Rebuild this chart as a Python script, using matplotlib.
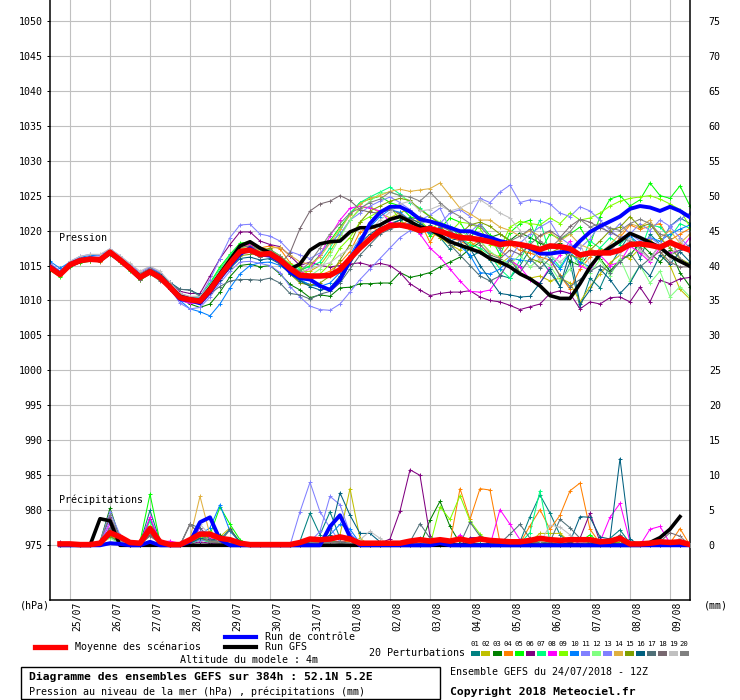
import numpy as np
import matplotlib
matplotlib.use('Agg')
import matplotlib.pyplot as plt
from matplotlib.patches import Rectangle
from matplotlib.lines import Line2D
from matplotlib.transforms import ScaledTranslation

plt.rcParams['font.family'] = ['DejaVu Sans Mono']

# ---------------- data ----------------
dates = ['25/07', '26/07', '27/07', '28/07', '29/07', '30/07', '31/07', '01/08',
         '02/08', '03/08', '04/08', '05/08', '06/08', '07/08', '08/08', '09/08']

pert_colors = ['#008080', '#c0c000', '#008000', '#ff8000', '#00ff00', '#800080',
               '#00ff80', '#ff00ff', '#80ff00', '#0080ff', '#8080ff', '#80ff80',
               '#8080ff', '#e0b040', '#80a000', '#006080', '#507078', '#786870',
               '#c0c0c0', '#808080']
pert_labels = ['01', '02', '03', '04', '05', '06', '07', '08', '09', '10',
               '11', '12', '13', '14', '15', '16', '17', '18', '19', '20']

# sea-level pressure (hPa), 6-hourly, 65 values
mean_p = [1014.7, 1013.7, 1015.1, 1015.7, 1015.9, 1015.8, 1016.9, 1015.8, 1014.6, 1013.3,
          1014.1, 1013.3, 1011.9, 1010.4, 1010.1, 1009.9, 1011.5, 1013.5, 1015.3, 1017.0,
          1017.2, 1016.6, 1016.7, 1015.8, 1014.6, 1013.6, 1013.5, 1013.5, 1013.6, 1014.4,
          1016.0, 1017.5, 1018.8, 1020.0, 1020.7, 1020.8, 1020.5, 1020.0, 1020.3, 1019.9,
          1019.4, 1019.0, 1018.9, 1018.7, 1018.4, 1018.0, 1018.2, 1018.0, 1017.7, 1017.3,
          1017.8, 1017.7, 1017.4, 1016.5, 1016.8, 1016.8, 1016.8, 1017.2, 1018.0, 1018.1,
          1017.9, 1017.6, 1018.3, 1017.7, 1017.2]
ctrl_p = [1014.9, 1013.8, 1015.2, 1015.8, 1016.0, 1015.9, 1016.8, 1015.7, 1014.5, 1013.2,
          1014.2, 1013.4, 1011.8, 1010.2, 1010.0, 1009.6, 1011.2, 1013.2, 1015.0, 1016.6,
          1017.5, 1016.6, 1016.4, 1015.6, 1014.1, 1013.2, 1013.0, 1012.1, 1011.5, 1013.0,
          1015.7, 1018.3, 1021.0, 1022.6, 1023.4, 1023.4, 1022.7, 1021.6, 1021.3, 1020.9,
          1020.4, 1019.9, 1019.9, 1019.4, 1019.0, 1018.5, 1018.2, 1018.0, 1017.5, 1016.7,
          1016.7, 1016.9, 1017.0, 1018.5, 1019.8, 1020.6, 1021.3, 1022.0, 1023.1, 1023.5,
          1023.3, 1022.8, 1023.4, 1022.8, 1021.9]
gfs_p = [1014.8, 1013.8, 1015.0, 1015.6, 1015.9, 1015.7, 1016.8, 1015.9, 1014.7, 1013.4,
         1014.2, 1013.4, 1012.0, 1010.6, 1010.2, 1010.0, 1011.8, 1013.8, 1015.8, 1017.8,
         1018.4, 1017.5, 1016.8, 1015.9, 1014.5, 1015.2, 1017.2, 1018.1, 1018.4, 1018.5,
         1019.8, 1020.4, 1020.4, 1020.8, 1021.6, 1022.0, 1021.3, 1020.5, 1020.2, 1019.3,
         1018.4, 1017.9, 1017.4, 1016.9, 1016.0, 1015.5, 1014.8, 1013.8, 1013.1, 1012.1,
         1010.7, 1010.3, 1010.3, 1012.4, 1014.8, 1016.6, 1017.6, 1018.5, 1019.6, 1019.0,
         1018.3, 1017.6, 1016.4, 1015.6, 1014.9]

p01 = [1015.0, 1013.9, 1015.3, 1015.9, 1016.1, 1016.0, 1017.0, 1015.9, 1014.9, 1013.6,
       1014.4, 1013.7, 1012.2, 1011.0, 1010.5, 1010.2, 1011.8, 1013.9, 1015.5, 1017.1,
       1016.9, 1016.2, 1016.5, 1015.3, 1014.0, 1012.8, 1012.3, 1012.0, 1011.4, 1012.8,
       1015.2, 1017.6, 1019.0, 1020.4, 1021.0, 1021.5, 1020.3, 1019.6, 1020.8, 1019.0,
       1017.3, 1018.5, 1016.2, 1017.0, 1015.8, 1013.6, 1013.2, 1015.0, 1017.3, 1016.0,
       1014.0, 1012.0, 1015.5, 1009.0, 1013.2, 1011.8, 1015.0, 1017.3, 1019.5, 1016.0,
       1019.5, 1018.0, 1020.6, 1021.8, 1021.0]
p02 = [1014.5, 1013.5, 1014.9, 1015.5, 1015.7, 1015.6, 1016.6, 1015.5, 1014.4, 1013.1,
       1014.0, 1013.1, 1011.6, 1010.2, 1009.9, 1009.6, 1011.0, 1013.0, 1015.2, 1016.8,
       1017.0, 1016.3, 1016.8, 1016.0, 1014.8, 1014.0, 1014.2, 1015.0, 1017.0, 1019.3,
       1021.5, 1023.2, 1023.4, 1022.5, 1021.8, 1022.6, 1023.0, 1021.0, 1019.8, 1019.0,
       1018.0, 1017.2, 1018.4, 1017.3, 1016.0, 1015.2, 1016.3, 1014.0, 1013.2, 1013.5,
       1012.8, 1013.2, 1012.5, 1009.8, 1012.0, 1013.8, 1015.4, 1016.5, 1016.0, 1017.5,
       1018.8, 1017.0, 1015.0, 1011.6, 1010.2]
p03 = [1014.6, 1013.8, 1015.0, 1015.6, 1015.9, 1015.9, 1016.8, 1015.6, 1014.5, 1013.1,
       1013.9, 1013.2, 1011.7, 1010.2, 1009.5, 1009.0, 1009.5, 1011.2, 1013.4, 1015.0,
       1015.2, 1014.8, 1015.0, 1013.8, 1012.3, 1011.5, 1010.4, 1010.8, 1010.6, 1011.8,
       1011.9, 1012.4, 1012.4, 1012.5, 1012.5, 1014.0, 1013.3, 1013.6, 1014.0, 1014.8,
       1015.5, 1016.2, 1017.4, 1018.3, 1019.0, 1019.5, 1018.6, 1019.7, 1019.0, 1018.2,
       1017.6, 1018.2, 1015.6, 1015.0, 1016.8, 1016.0, 1014.2, 1015.8, 1016.5, 1018.2,
       1016.8, 1015.5, 1017.2, 1014.0, 1012.0]
p04 = [1014.9, 1014.0, 1015.2, 1015.8, 1016.0, 1015.5, 1016.9, 1015.9, 1014.9, 1013.5,
       1014.5, 1013.6, 1012.0, 1010.6, 1010.3, 1010.0, 1012.0, 1014.2, 1016.3, 1017.8,
       1018.0, 1017.5, 1017.8, 1017.4, 1015.4, 1014.0, 1013.0, 1013.6, 1014.2, 1015.4,
       1017.0, 1019.8, 1020.5, 1020.0, 1021.2, 1020.8, 1021.5, 1021.3, 1018.3, 1020.7,
       1019.0, 1018.5, 1017.8, 1018.6, 1016.8, 1016.2, 1018.0, 1017.2, 1016.8, 1016.2,
       1015.8, 1013.6, 1011.6, 1014.5, 1016.2, 1017.4, 1016.8, 1019.0, 1020.8, 1020.2,
       1020.6, 1021.0, 1018.6, 1019.5, 1020.3]
p05 = [1014.3, 1013.4, 1014.8, 1015.4, 1015.6, 1015.6, 1016.5, 1015.5, 1014.2, 1012.9,
       1013.8, 1013.0, 1011.8, 1010.6, 1010.2, 1010.6, 1012.5, 1014.8, 1016.6, 1018.2,
       1018.4, 1017.5, 1017.3, 1016.4, 1015.0, 1014.2, 1015.0, 1016.5, 1018.5, 1020.5,
       1022.3, 1024.0, 1024.5, 1024.9, 1024.0, 1023.5, 1022.0, 1021.5, 1019.2, 1020.3,
       1021.8, 1021.2, 1018.8, 1021.0, 1019.3, 1016.5, 1019.7, 1021.0, 1021.5, 1017.0,
       1019.5, 1018.8, 1019.5, 1020.5, 1018.0, 1022.0, 1024.5, 1025.0, 1023.5, 1024.4,
       1026.8, 1025.0, 1024.6, 1026.4, 1023.5]
p06 = [1015.2, 1014.2, 1015.3, 1015.9, 1016.2, 1016.2, 1017.0, 1016.0, 1015.0, 1013.8,
       1014.6, 1014.0, 1012.5, 1011.3, 1011.0, 1011.0, 1013.5, 1016.0, 1018.0, 1019.8,
       1019.8, 1018.5, 1018.0, 1017.7, 1016.4, 1015.0, 1015.5, 1015.0, 1014.8, 1015.0,
       1015.2, 1015.4, 1015.0, 1015.3, 1015.0, 1014.0, 1012.4, 1011.5, 1010.7, 1011.0,
       1011.2, 1011.2, 1011.4, 1010.5, 1010.0, 1009.8, 1009.3, 1008.7, 1009.1, 1009.5,
       1011.0, 1011.4, 1011.0, 1008.8, 1009.8, 1009.5, 1010.4, 1010.5, 1009.8, 1011.9,
       1009.8, 1012.9, 1012.4, 1013.1, 1013.3]
p07 = [1014.8, 1013.6, 1015.2, 1015.9, 1016.1, 1016.0, 1016.9, 1015.9, 1014.7, 1013.5,
       1014.3, 1013.5, 1012.2, 1010.8, 1010.3, 1010.4, 1012.4, 1014.5, 1016.5, 1018.0,
       1018.3, 1017.2, 1017.0, 1016.2, 1015.2, 1014.5, 1014.8, 1015.5, 1017.5, 1020.0,
       1022.5, 1024.0, 1024.8, 1025.5, 1026.2, 1025.2, 1024.0, 1023.2, 1022.0, 1021.0,
       1020.6, 1019.0, 1018.0, 1017.5, 1016.5, 1014.5, 1013.2, 1015.8, 1018.5, 1021.5,
       1016.5, 1014.8, 1017.0, 1015.0, 1018.5, 1017.5, 1019.0, 1018.0, 1019.5, 1017.0,
       1020.8, 1020.5, 1019.0, 1021.0, 1020.3]
p08 = [1014.6, 1013.6, 1015.0, 1015.7, 1015.8, 1015.8, 1016.8, 1015.7, 1014.6, 1013.3,
       1014.2, 1013.2, 1011.8, 1010.0, 1009.6, 1009.7, 1011.5, 1013.8, 1016.0, 1017.8,
       1018.0, 1017.0, 1016.8, 1016.2, 1014.8, 1013.8, 1014.6, 1016.5, 1019.2, 1021.5,
       1023.2, 1023.5, 1023.2, 1022.8, 1021.2, 1020.8, 1021.0, 1019.5, 1017.5, 1016.2,
       1014.5, 1012.8, 1011.3, 1011.2, 1011.5, 1013.5, 1015.8, 1014.8, 1013.0, 1012.5,
       1014.8, 1016.5, 1018.5, 1015.0, 1014.3, 1016.5, 1015.0, 1015.5, 1017.8, 1016.8,
       1015.5, 1017.5, 1016.8, 1017.2, 1019.0]
p09 = [1014.4, 1013.5, 1014.9, 1015.5, 1015.7, 1015.7, 1016.6, 1015.6, 1014.4, 1013.0,
       1013.9, 1013.1, 1011.8, 1010.4, 1010.0, 1010.2, 1012.0, 1014.0, 1016.0, 1017.5,
       1017.8, 1017.0, 1017.2, 1016.4, 1015.2, 1014.8, 1013.5, 1013.8, 1015.2, 1017.5,
       1019.0, 1021.2, 1022.0, 1022.8, 1023.5, 1021.5, 1020.0, 1021.5, 1020.0, 1021.2,
       1019.8, 1021.2, 1021.0, 1020.3, 1018.0, 1017.5, 1020.5, 1021.3, 1021.0, 1020.8,
       1021.8, 1021.0, 1022.5, 1021.5, 1021.8, 1022.5, 1023.5, 1024.2, 1024.6, 1024.8,
       1025.0, 1024.5, 1023.8, 1023.0, 1020.5]
p10 = [1015.6, 1014.6, 1015.5, 1016.2, 1016.4, 1016.5, 1017.2, 1016.2, 1014.8, 1013.5,
       1014.6, 1013.8, 1012.0, 1010.0, 1008.8, 1008.4, 1007.8, 1009.5, 1011.8, 1013.8,
       1015.0, 1015.4, 1015.5, 1015.0, 1014.0, 1013.0, 1012.2, 1012.0, 1012.5, 1014.0,
       1016.5, 1019.0, 1020.5, 1022.0, 1023.0, 1022.6, 1021.5, 1020.3, 1019.6, 1020.5,
       1018.7, 1017.8, 1016.5, 1014.0, 1013.8, 1014.5, 1016.0, 1015.8, 1015.6, 1017.2,
       1016.0, 1014.5, 1016.8, 1015.5, 1014.8, 1016.5, 1017.2, 1018.5, 1019.2, 1018.0,
       1019.0, 1018.5, 1019.5, 1020.2, 1020.8]
p11 = [1015.3, 1014.2, 1015.6, 1016.3, 1016.6, 1016.5, 1017.4, 1016.4, 1015.2, 1014.0,
       1014.8, 1014.0, 1012.6, 1011.0, 1010.5, 1010.5, 1013.0, 1016.0, 1019.0, 1020.8,
       1020.9, 1019.5, 1019.2, 1018.5, 1017.0, 1016.5, 1016.0, 1016.8, 1018.2, 1019.5,
       1021.5, 1022.5, 1023.5, 1024.2, 1024.8, 1024.0, 1023.0, 1021.5, 1022.2, 1023.2,
       1020.2, 1018.5, 1019.8, 1021.0, 1019.0, 1017.2, 1016.0, 1018.2, 1019.5, 1020.5,
       1021.3, 1019.0, 1018.0, 1017.5, 1018.8, 1020.8, 1019.5, 1021.0, 1019.5, 1021.0,
       1020.0, 1021.5, 1020.6, 1021.6, 1022.5]
p12 = [1014.7, 1013.8, 1015.1, 1015.8, 1015.9, 1015.8, 1016.8, 1015.7, 1014.6, 1013.4,
       1014.2, 1013.4, 1012.0, 1010.5, 1010.0, 1010.0, 1011.8, 1013.6, 1015.4, 1016.8,
       1017.0, 1016.6, 1016.5, 1015.6, 1014.5, 1013.2, 1013.5, 1014.5, 1016.5, 1019.0,
       1021.5, 1023.0, 1024.2, 1025.3, 1025.5, 1025.0, 1024.2, 1023.0, 1022.0, 1021.2,
       1020.5, 1020.0, 1019.0, 1018.5, 1017.0, 1016.0, 1015.2, 1016.5, 1014.8, 1016.0,
       1015.0, 1012.8, 1014.5, 1016.3, 1014.0, 1015.8, 1013.5, 1016.0, 1012.8, 1015.0,
       1012.5, 1014.2, 1010.5, 1012.0, 1010.5]
p13 = [1015.0, 1014.0, 1015.4, 1016.0, 1016.2, 1016.1, 1017.0, 1016.0, 1014.8, 1013.6,
       1014.4, 1013.5, 1011.8, 1009.6, 1008.8, 1009.0, 1010.5, 1012.5, 1014.2, 1015.5,
       1015.6, 1015.3, 1015.0, 1014.0, 1012.0, 1010.5, 1009.2, 1008.7, 1008.6, 1009.5,
       1011.2, 1013.0, 1014.5, 1016.0, 1017.5, 1019.0, 1020.0, 1021.0, 1021.5, 1021.0,
       1022.5, 1023.0, 1022.0, 1024.6, 1024.0, 1025.5, 1026.5, 1024.0, 1024.4, 1024.2,
       1023.8, 1022.5, 1022.0, 1023.4, 1022.8, 1021.5, 1020.0, 1019.0, 1019.5, 1018.5,
       1019.0, 1018.0, 1020.5, 1019.0, 1017.5]
p14 = [1014.8, 1013.9, 1015.1, 1015.7, 1016.0, 1015.9, 1016.7, 1015.6, 1014.7, 1013.4,
       1014.1, 1013.3, 1011.9, 1010.6, 1010.2, 1010.1, 1011.6, 1013.6, 1015.5, 1017.4,
       1017.6, 1017.2, 1017.5, 1017.6, 1016.5, 1015.5, 1015.2, 1016.2, 1018.2, 1020.2,
       1022.2, 1023.8, 1024.6, 1025.0, 1025.6, 1025.9, 1025.6, 1025.8, 1026.0, 1026.8,
       1025.0, 1023.2, 1022.4, 1021.5, 1021.5, 1020.5, 1020.0, 1019.2, 1020.0, 1019.2,
       1019.8, 1018.5, 1019.5, 1018.0, 1017.4, 1016.8, 1018.0, 1019.5, 1021.0, 1020.5,
       1021.5, 1019.0, 1020.0, 1018.2, 1019.5]
p15 = [1014.5, 1013.6, 1014.9, 1015.5, 1015.6, 1015.6, 1016.6, 1015.6, 1014.5, 1013.2,
       1014.0, 1013.2, 1011.7, 1010.4, 1010.1, 1010.3, 1011.8, 1013.2, 1014.8, 1016.4,
       1016.6, 1016.8, 1017.5, 1015.8, 1013.8, 1012.5, 1012.2, 1012.5, 1013.5, 1015.8,
       1018.0, 1021.2, 1022.8, 1023.5, 1024.2, 1024.6, 1024.3, 1023.0, 1022.0, 1021.0,
       1020.3, 1019.5, 1020.8, 1021.2, 1020.6, 1019.5, 1018.5, 1017.8, 1016.0, 1015.5,
       1016.8, 1017.5, 1016.5, 1016.0, 1017.2, 1018.5, 1020.0, 1020.5, 1022.0, 1020.5,
       1021.0, 1019.0, 1017.5, 1016.0, 1015.2]
p16 = [1014.9, 1014.0, 1015.2, 1015.9, 1016.0, 1015.8, 1016.7, 1015.7, 1014.6, 1013.5,
       1014.5, 1013.8, 1012.6, 1011.6, 1011.5, 1010.8, 1011.6, 1013.0, 1014.6, 1016.0,
       1016.2, 1015.8, 1016.0, 1015.2, 1013.8, 1012.8, 1012.0, 1011.5, 1011.8, 1013.5,
       1016.0, 1018.2, 1019.5, 1020.4, 1020.8, 1021.5, 1021.8, 1021.0, 1020.2, 1019.5,
       1018.5, 1019.0, 1017.5, 1015.0, 1013.0, 1011.0, 1010.8, 1010.5, 1010.6, 1012.5,
       1014.5, 1012.0, 1017.0, 1009.5, 1011.5, 1014.5, 1013.0, 1011.0, 1012.5, 1015.0,
       1013.5, 1016.5, 1015.2, 1017.0, 1015.5]
p17 = [1014.7, 1013.8, 1015.0, 1015.6, 1015.8, 1015.7, 1016.6, 1015.6, 1014.6, 1013.4,
       1014.3, 1013.6, 1012.3, 1011.6, 1011.5, 1010.6, 1011.0, 1012.0, 1012.8, 1013.0,
       1013.0, 1012.9, 1013.2, 1012.5, 1011.0, 1010.8, 1010.2, 1010.9, 1011.3, 1012.5,
       1014.5, 1016.5, 1018.0, 1019.5, 1020.2, 1020.8, 1021.0, 1020.5, 1019.8, 1019.4,
       1018.0, 1016.5, 1015.0, 1013.5, 1012.8, 1013.5, 1015.8, 1014.0, 1016.0, 1014.6,
       1016.0, 1013.5, 1012.0, 1013.0, 1014.2, 1015.0, 1014.0, 1015.5, 1016.8, 1014.8,
       1016.0, 1018.0, 1016.5, 1017.2, 1018.0]
p18 = [1014.6, 1013.7, 1015.0, 1015.6, 1015.8, 1015.7, 1016.8, 1015.7, 1014.5, 1013.0,
       1013.8, 1012.8, 1011.7, 1010.8, 1009.9, 1009.8, 1011.5, 1013.4, 1015.2, 1016.7,
       1016.9, 1016.2, 1016.6, 1015.2, 1016.8, 1020.3, 1022.8, 1023.8, 1024.2, 1025.0,
       1024.3, 1023.0, 1022.6, 1022.5, 1023.0, 1022.4, 1021.5, 1022.0, 1021.3, 1020.6,
       1020.0, 1018.6, 1019.4, 1018.0, 1016.5, 1016.0, 1017.2, 1016.6, 1018.0, 1019.3,
       1020.0, 1019.0, 1020.6, 1021.6, 1021.2, 1020.4, 1019.8, 1019.0, 1018.5, 1017.5,
       1016.0, 1017.0, 1015.5, 1014.8, 1014.8]
p19 = [1015.2, 1014.0, 1015.6, 1016.3, 1016.6, 1016.6, 1017.4, 1016.4, 1015.3, 1014.2,
       1014.9, 1014.2, 1012.6, 1011.0, 1010.6, 1010.6, 1012.2, 1014.0, 1015.7, 1017.2,
       1017.4, 1016.9, 1016.9, 1015.8, 1014.6, 1014.0, 1014.6, 1015.0, 1015.4, 1016.5,
       1017.5, 1018.6, 1020.0, 1021.5, 1022.6, 1023.8, 1024.2, 1022.8, 1023.0, 1023.6,
       1022.8, 1023.2, 1024.0, 1024.4, 1023.5, 1022.5, 1021.8, 1020.0, 1017.5, 1015.8,
       1016.5, 1015.5, 1016.8, 1018.0, 1015.0, 1016.6, 1018.0, 1016.5, 1019.0, 1017.2,
       1015.8, 1018.2, 1016.0, 1018.8, 1016.5]
p20 = [1014.9, 1013.9, 1015.3, 1016.0, 1016.2, 1016.1, 1017.1, 1016.0, 1014.9, 1013.8,
       1014.6, 1013.7, 1012.3, 1010.8, 1010.3, 1010.0, 1011.8, 1014.0, 1016.0, 1017.6,
       1017.8, 1017.3, 1017.2, 1016.4, 1015.0, 1014.2, 1015.5, 1017.5, 1019.5, 1021.0,
       1022.5, 1023.2, 1024.0, 1024.5, 1025.5, 1025.0, 1024.8, 1024.2, 1025.5, 1024.0,
       1022.8, 1022.0, 1021.0, 1020.6, 1019.0, 1017.5, 1018.5, 1019.2, 1020.2, 1018.5,
       1017.5, 1018.8, 1019.8, 1021.6, 1020.5, 1021.0, 1020.4, 1020.0, 1021.0, 1021.6,
       1021.0, 1019.5, 1019.0, 1016.0, 1014.8]

# precipitation (mm per 6 h), steps 1..64
mean_r = [0.2, 0.2, 0.1, 0.1, 0.3, 1.8, 1.2, 0.4, 0.3, 2.4, 0.5, 0.1, 0.1, 0.8, 1.6, 1.6,
          1.0, 0.8, 0.3, 0.1, 0.1, 0.1, 0.1, 0.1, 0.4, 0.9, 0.8, 0.9, 1.2, 0.9, 0.3, 0.3,
          0.3, 0.3, 0.3, 0.6, 0.8, 0.6, 0.8, 0.6, 0.9, 0.6, 0.9, 0.7, 0.6, 0.5, 0.5, 0.7,
          1.0, 0.8, 0.7, 0.8, 0.8, 0.8, 0.5, 0.6, 1.0, 0.2, 0.2, 0.3, 0.5, 0.4, 0.5, 0.1]
ctrl_r = [0, 0, 0, 0, 0, 0.3, 0.2, 0, 0, 0.5, 0, 0, 0, 0.5, 3.3, 4.0,
          0.8, 0, 0, 0, 0, 0, 0, 0, 0, 0, 0, 2.7, 4.3, 1.2, 0, 0,
          0, 0, 0, 0, 0, 0, 0.3, 0, 0, 0, 0, 0, 0, 0, 0, 0,
          0, 0, 0, 0, 0, 0, 0, 0, 0, 0, 0, 0, 0, 0, 0, 0]
# GFS precipitation, steps 1..63
gfs_r = [0, 0, 0, 0, 3.8, 3.5, 0, 0, 0, 0, 0, 0, 0, 0, 0, 0,
         0, 0, 0, 0, 0, 0, 0, 0, 0, 0, 0, 0, 0, 0, 0, 0,
         0, 0, 0, 0, 0, 0, 0, 0, 0, 0, 0, 0, 0, 0, 0, 0,
         0, 0, 0, 0, 0, 0, 0, 0, 0, 0, 0, 0.4, 1.1, 2.3, 4.1]

r01 = [0.3, 0.1, 0, 0, 0.4, 2.5, 1.0, 0.2, 0.3, 5.0, 0.6, 0, 0, 0.3, 1.2, 1.0,
       0.5, 0.3, 0, 0, 0, 0, 0, 0, 0.6, 4.6, 1.5, 4.8, 1.0, 0.5, 0.2, 0,
       0, 0, 0, 0.2, 0, 0, 0, 0.3, 0.2, 0, 0, 0.3, 0, 0, 0.5, 4.1,
       7.2, 4.6, 1.5, 0.3, 0.2, 0.5, 0.3, 1.0, 2.2, 0.3, 0, 0, 0.2, 0, 0, 0]
r02 = [0, 0, 0, 0, 0.2, 1.5, 0.5, 0, 0.2, 2.0, 0.3, 0, 0, 0.5, 1.5, 1.0,
       1.2, 2.5, 0.3, 0, 0, 0, 0, 0, 0, 0.3, 0.5, 0.6, 1.5, 8.1, 1.0, 0,
       0, 0, 0, 0, 0, 0, 0.3, 0, 0, 0.3, 0.2, 0, 0, 0, 0, 0.5,
       1.7, 1.7, 1.7, 0.5, 0, 0, 0, 0.3, 0.4, 0, 0, 0, 0, 0, 0.2, 0]
r03 = [0, 0.2, 0, 0, 0.5, 5.3, 1.0, 0, 0, 2.0, 0.2, 0, 0, 0.3, 0.8, 0.5,
       1.5, 0.2, 0, 0, 0, 0, 0, 0, 0.3, 0.2, 0.3, 0.5, 0.3, 0, 0, 0,
       0, 0, 0, 0, 0, 3.6, 6.3, 2.7, 0.3, 0.2, 0, 0, 0, 0, 0, 0.2,
       0.3, 0, 0, 0, 0.3, 0.5, 0.2, 0.3, 0.4, 0, 0, 0, 0, 0, 0, 0]
r04 = [0, 0, 0, 0, 0.3, 1.2, 0.5, 0, 0, 1.5, 0.3, 0, 0, 0.4, 1.8, 1.2,
       0.5, 0.2, 0, 0, 0, 0, 0, 0, 0, 0.4, 0.3, 0.3, 0.6, 0.5, 0, 0,
       0, 0, 0, 0.3, 0.5, 0.3, 0.2, 0.3, 8.1, 3.7, 8.1, 7.9, 0.4, 0, 0.3, 2.8,
       5.1, 2.3, 4.3, 7.8, 8.9, 2.3, 0.3, 0, 0.3, 0, 0, 0, 0.2, 0.3, 2.4, 0]
r05 = [0, 0, 0, 0, 0.3, 2.0, 0.8, 0.2, 0.5, 7.3, 0.5, 0, 0, 0.3, 1.0, 1.5,
       5.5, 3.0, 0.8, 0, 0, 0, 0, 0, 0, 0.5, 0.3, 0.6, 0.4, 0.3, 0, 0,
       0, 0, 0, 0, 0, 0, 0, 0, 0, 0.2, 0.3, 0, 0, 0, 0, 0.3,
       0.5, 0.3, 0, 0, 0.5, 1.5, 0.3, 0, 0.5, 0.2, 0, 0, 0, 0, 0, 0]
r06 = [0.5, 0, 0, 0, 0.5, 4.0, 1.0, 0, 0.3, 3.8, 0.5, 0, 0, 0.2, 0.5, 0.3,
       0.3, 0, 0, 0, 0, 0, 0, 0, 0.3, 0.8, 0.5, 0.3, 0.6, 0.3, 0, 0,
       0.3, 0.9, 4.9, 10.8, 10.0, 1.3, 0.3, 0, 0, 1.1, 1.1, 0.3, 0, 0, 0, 0.5,
       0.3, 0, 0, 0.3, 1.0, 4.6, 0.5, 0, 0.3, 0, 0, 0, 0, 0, 0, 0]
r07 = [0, 0, 0, 0, 0.2, 1.5, 0.5, 0, 0.2, 3.5, 0.3, 0, 0, 0.2, 0.8, 0.5,
       0.3, 0, 0, 0, 0, 0, 0, 0, 0.2, 0.5, 1.0, 0.4, 0.3, 0, 0, 0,
       0, 0, 0, 0, 0, 0, 0, 0, 0, 0, 0, 0, 0, 0, 0.3, 1.8,
       7.8, 0.5, 0, 0, 0, 0.3, 0.2, 0, 0.3, 0, 0, 0, 0, 0, 0, 0]
r08 = [0, 0, 0, 0, 0.5, 3.0, 0.5, 0.5, 0.3, 4.0, 0.5, 0.6, 0.3, 0.2, 2.5, 1.0,
       0.3, 0, 0, 0, 0, 0, 0, 0, 0, 0.3, 0.2, 0.5, 0.3, 0, 0, 0,
       0, 0, 0, 0, 0.2, 0, 0, 0, 1.5, 0.3, 0, 0, 5.1, 3.0, 0.8, 0.2,
       0.3, 0.2, 0, 0, 0.5, 0.3, 0.5, 4.0, 6.0, 0.5, 0, 2.3, 2.7, 0.3, 0, 0]
r09 = [0, 0, 0, 0, 0.3, 1.8, 0.6, 0, 0.3, 2.8, 0.3, 0, 0, 0.3, 1.2, 2.0,
       0.8, 0.3, 0, 0, 0, 0, 0, 0, 0, 0.3, 0.5, 0.3, 0.2, 0, 0, 0,
       0, 0, 0, 0, 0, 0, 5.5, 3.7, 7.1, 3.5, 1.6, 0.3, 0, 0, 0, 0,
       0.3, 0.2, 0, 0, 0.2, 0.3, 0, 0, 0.5, 0.2, 0, 0, 0, 0, 0, 0]
r10 = [0, 0, 0, 0, 0.2, 1.2, 0.4, 0, 0.2, 2.2, 0.3, 0, 0, 0.3, 1.5, 2.5,
       5.8, 2.0, 0.5, 0, 0, 0, 0, 0, 0, 0.3, 0.3, 1.5, 3.0, 2.3, 0.3, 0,
       0, 0, 0, 0.3, 1.0, 0.3, 0, 0, 0, 0, 0.2, 0, 0, 0, 0, 0,
       0, 0, 0, 0, 0, 0, 0, 0, 0.3, 0, 0, 0, 0, 0, 0, 0]
r11 = [0, 0, 0, 0, 0.5, 4.8, 1.5, 0.3, 0.3, 2.5, 0.5, 0, 0, 0.5, 2.0, 1.5,
       0.5, 0.2, 0, 0, 0, 0, 0, 0, 4.8, 9.0, 4.8, 2.5, 0.5, 0.3, 0, 0,
       0, 0, 0, 0, 0, 0, 0, 0, 0, 0, 0, 0, 0, 0, 0, 0,
       0, 0, 0, 0, 0, 0, 0, 0, 0, 0, 0, 0, 0, 0, 0, 0]
r12 = [0, 0, 0, 0, 0.3, 1.0, 0.3, 0, 0.2, 2.0, 0.3, 0, 0, 0.3, 1.0, 0.8,
       0.4, 0, 0, 0, 0, 0, 0, 0, 0, 0.3, 0.2, 0.3, 0.2, 0, 0, 0,
       0, 0, 0, 0, 0, 0, 0, 0, 0, 0, 0, 0, 0, 0, 0, 0.3,
       0.3, 0, 0, 0, 0.2, 0.5, 0.3, 0, 0.4, 0, 0, 0, 0, 0, 0.3, 0]
r13 = [0, 0, 0, 0, 0.3, 3.5, 1.0, 0, 0, 1.8, 0.3, 0, 0, 0.3, 0.8, 0.6,
       0.3, 0, 0, 0, 0, 0, 0, 0, 0, 0.5, 2.0, 7.0, 5.8, 1.7, 0.3, 0,
       0, 0, 0, 0, 0, 0, 0, 0, 0, 0, 0, 0, 0, 0, 0, 0,
       0, 0, 0, 0, 0, 0, 0, 0, 0, 0, 0, 0, 0, 0, 0, 0]
r14 = [0, 0, 0, 0, 0.3, 1.5, 0.5, 0, 0, 1.5, 0.3, 0, 0, 1.0, 7.0, 1.5,
       0.5, 0, 0, 0, 0, 0, 0, 0, 0, 0.6, 0.3, 0.3, 0.5, 0.3, 0, 0,
       0, 0, 0, 0, 0, 0, 0, 0, 0, 0, 0, 0, 0, 0, 0, 0,
       0.3, 0.5, 0.3, 0, 0, 0, 0, 0, 0.3, 0, 0, 0, 0, 0, 0, 0]
r15 = [0, 0, 0, 0, 0.2, 1.3, 0.5, 0, 0, 1.8, 0.3, 0, 0, 0.3, 1.0, 0.6,
       0.3, 0, 0, 0, 0, 0, 0, 0, 0, 0.3, 0.3, 0.4, 0.3, 0, 0, 0,
       0, 0, 0, 0, 0, 0, 0, 0, 0, 0, 0, 0, 0, 0.3, 0.5, 0.3,
       0.3, 0.2, 0, 0, 0.3, 0.2, 0, 0, 0.5, 0, 0, 0, 0, 0, 0, 0]
r16 = [0, 0, 0, 0, 0.3, 2.0, 0.6, 0.2, 0.2, 2.5, 0.4, 0, 0, 0.3, 1.0, 0.8,
       0.8, 2.3, 0.5, 0.2, 0.2, 0.2, 0.2, 0, 0.2, 0.5, 0.5, 1.5, 7.5, 4.3, 1.7, 1.7,
       0.5, 0.2, 0, 0, 0, 0, 0, 0, 0, 0, 0, 0, 0, 0, 0, 0,
       0, 0, 0, 0.5, 4.1, 4.0, 1.2, 0.9, 12.4, 0.9, 0, 0, 0, 0, 0, 0]
r17 = [0, 0, 0, 0, 0.3, 2.2, 0.6, 0, 0, 1.5, 0.3, 0, 0, 3.0, 2.5, 0.8,
       0.5, 2.2, 0.3, 0, 0, 0, 0, 0, 0, 0.3, 0.5, 0.3, 0.5, 0.3, 0.2, 0,
       0, 0, 0, 0.5, 3.1, 1.0, 0, 0, 0.2, 3.3, 1.3, 0, 0.3, 1.6, 3.0, 1.0,
       0.3, 0.5, 3.7, 2.5, 1.0, 0.3, 0.5, 0.5, 1.5, 0.3, 0.3, 0, 0, 0, 0, 0]
r18 = [0.3, 0, 0, 0, 0.2, 2.5, 0.8, 0, 0.2, 1.3, 0.3, 0, 0, 3.0, 1.5, 0.5,
       0.3, 0, 0, 0, 0, 0, 0, 0, 0, 0.3, 0.5, 0.3, 0.3, 0.2, 0, 0,
       0, 0, 0, 0, 0, 0, 0, 0, 0, 0, 0, 0, 0, 0, 0, 0,
       0, 0.3, 0, 0, 0, 0, 0, 0, 0, 0, 0, 0, 0.5, 1.8, 1.3, 0]
r19 = [0, 0, 0, 0, 0.3, 1.8, 0.5, 0.3, 0.3, 2.2, 0.8, 0.2, 0, 0.3, 3.0, 1.5,
       0.5, 0.3, 0, 0, 0, 0, 0, 0, 0, 0.3, 0.3, 0.3, 0.2, 0.3, 0.8, 2.0,
       1.0, 0, 0, 0, 0, 0, 0, 0, 0, 0, 0, 0, 0, 0, 0, 0,
       0.3, 2.9, 2.6, 1.5, 0.5, 0, 0, 0, 0.3, 0, 0, 0, 0, 0, 1.0, 0]
r20 = [0, 0, 0, 0, 0.5, 4.3, 1.0, 0.3, 0.3, 2.0, 0.3, 0, 0, 3.1, 1.5, 0.5,
       0.5, 0, 0, 0, 0, 0, 0, 0, 0, 0.3, 0.5, 0.5, 0.3, 0, 0, 0,
       0, 0, 0, 0, 0, 0, 0, 0, 0, 0, 0, 0, 0, 0, 0, 0,
       0, 0, 0, 0, 0, 0, 0, 0, 0, 0, 0, 0, 0, 0, 0, 0]

pert_p = [p01, p02, p03, p04, p05, p06, p07, p08, p09, p10,
          p11, p12, p13, p14, p15, p16, p17, p18, p19, p20]
pert_r = [r01, r02, r03, r04, r05, r06, r07, r08, r09, r10,
          r11, r12, r13, r14, r15, r16, r17, r18, r19, r20]

# ---------------- figure ----------------
W, H = 740, 700
fig = plt.figure(figsize=(W / 100, H / 100), dpi=100)
fig.patch.set_facecolor('white')


def fx(px):
    return px / W


def fy(py):
    return 1 - py / H


ax = fig.add_axes([fx(50), fy(600), 640 / W, 600 / H])
ax2 = ax.twinx()

steps = np.arange(len(mean_p))
rsteps = steps[1:]

P_LO, P_HI = 967.18, 1052.96
ax.set_xlim(0, 64)
ax.set_ylim(P_LO, P_HI)
ax2.set_ylim(P_LO - 975, P_HI - 975)

grid_c = '#c0c0c0'
ax.set_yticks(np.arange(975, 1051, 5))
ax.set_xticks(np.arange(2, 64, 4))
ax.set_xticklabels(dates, rotation=90, fontsize=7, va='top', ha='center')
ax.grid(True, color=grid_c, lw=0.8)
ax.set_axisbelow(True)
ax.tick_params(axis='y', length=2, width=0.7, pad=3.5, labelsize=7.2)
ax.tick_params(axis='x', length=0, pad=1)
for lab in ax.get_xticklabels():
    lab.set_transform(lab.get_transform() + ScaledTranslation(7 / 100, 0, fig.dpi_scale_trans))

ax2.set_yticks(np.arange(0, 76, 5))
ax2.tick_params(axis='y', length=0, pad=13.5, labelsize=7.2)

for sp in ['top']:
    ax.spines[sp].set_visible(False)
for sp in ['left', 'right', 'bottom']:
    ax.spines[sp].set_linewidth(1.1)
    ax.spines[sp].set_color('black')
for sp in ax2.spines.values():
    sp.set_visible(False)

# perturbations
for pp, col in zip(pert_p, pert_colors):
    ax.plot(steps, pp, color=col, lw=0.75, marker='+', ms=3, mew=0.7, zorder=2)
for rr, col in zip(pert_r, pert_colors):
    ax2.plot(rsteps, rr, color=col, lw=0.75, marker='+', ms=3, mew=0.7, zorder=2)

# GFS, control, mean
ax.plot(steps, gfs_p, color='black', lw=2.6, zorder=3)
ax.plot(steps, ctrl_p, color='#0000ff', lw=2.8, zorder=4)
ax.plot(steps, mean_p, color='#ff0000', lw=4.0, zorder=5)
ax2.plot(rsteps[:len(gfs_r)], gfs_r, color='black', lw=2.6, zorder=3)
ax2.plot(rsteps, ctrl_r, color='#0000ff', lw=2.8, zorder=4)
ax2.plot(rsteps, mean_r, color='#ff0000', lw=4.0, zorder=5)

# in-plot labels
fig.text(fx(59), fy(238), 'Pression', fontsize=7.2, va='center', ha='left')
fig.text(fx(59), fy(500), 'Précipitations', fontsize=7.2, va='center', ha='left')
fig.text(fx(20), fy(606), '(hPa)', fontsize=7.2, va='center', ha='left')
fig.text(fx(704), fy(606), '(mm)', fontsize=7.2, va='center', ha='left')

# legend
fig.add_artist(Line2D([fx(35), fx(65)], [fy(647), fy(647)], color='#ff0000', lw=3.8))
fig.text(fx(75), fy(647), 'Moyenne des scénarios', fontsize=7.2, va='center', ha='left')
fig.add_artist(Line2D([fx(225), fx(256)], [fy(637), fy(637)], color='#0000ff', lw=3.0))
fig.text(fx(265), fy(637), 'Run de contrôle', fontsize=7.2, va='center', ha='left')
fig.add_artist(Line2D([fx(225), fx(256)], [fy(647), fy(647)], color='black', lw=3.0))
fig.text(fx(265), fy(647), 'Run GFS', fontsize=7.2, va='center', ha='left')
fig.text(fx(180), fy(660), 'Altitude du modele : 4m', fontsize=7.2, va='center', ha='left')

fig.text(fx(465), fy(653), '20 Perturbations', fontsize=7.2, va='center', ha='right')
for k, (lab, col) in enumerate(zip(pert_labels, pert_colors)):
    x0 = 470.5 + 11 * k
    fig.add_artist(Rectangle((fx(x0), fy(656)), 9 / W, 5 / H, transform=fig.transFigure,
                             facecolor=col, edgecolor='none'))
    fig.text(fx(x0 + 4.5), fy(644), lab, fontsize=5.2, va='center', ha='center')

fig.add_artist(Rectangle((fx(20.5), fy(699)), 419.5 / W, 32 / H, transform=fig.transFigure,
                         facecolor='none', edgecolor='black', lw=1.0))
fig.text(fx(29), fy(677), 'Diagramme des ensembles GEFS sur 384h : 52.1N 5.2E',
         fontsize=8.2, fontweight='bold', va='center', ha='left')
fig.text(fx(29), fy(692), 'Pression au niveau de la mer (hPa) , précipitations (mm)',
         fontsize=7.2, va='center', ha='left')
fig.text(fx(450), fy(672), 'Ensemble GEFS du 24/07/2018 - 12Z', fontsize=7.2, va='center', ha='left')
fig.text(fx(450), fy(692), 'Copyright 2018 Meteociel.fr', fontsize=8.2, fontweight='bold',
         va='center', ha='left')

fig.savefig('out.png', dpi=100)
